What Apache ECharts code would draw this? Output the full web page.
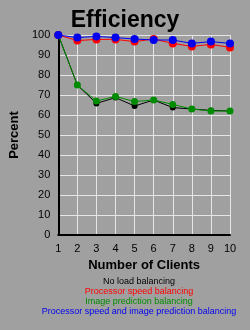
<!DOCTYPE html>
<html><head><meta charset="utf-8">
<script src="https://cdn.jsdelivr.net/npm/echarts@6/dist/echarts.min.js"></script>
<style>html,body{margin:0;padding:0;background:#a0a0a0;}#c{width:250px;height:330px;}</style>
</head><body><div id="c"></div>
<script>
const clients = [1,2,3,4,5,6,7,8,9,10];
const noLoad = [100,75,65.8,68.7,64.5,67.5,63.7,63,62.3,62];
const procSpeed = [100,97.2,97.8,97.8,96.7,98,95.8,94.3,95.3,93.8];
const imagePred = [100,75,67,69.3,66.7,67.5,65.3,63,62,62];
const both = [100,98.7,99.3,98.7,98,97.5,97.5,95.8,96.7,95.8];
const seriesNames = ['No load balancing','Processor speed balancing','Image prediction balancing','Processor speed and image prediction balancing'];
const seriesColors = ['#000000','#ff0000','#008c00','#0000ee'];
const seriesData = [noLoad, procSpeed, imagePred, both];
const markerSizes = [6,8,7,8];

const chart = echarts.init(document.getElementById('c'));
const font = 'Liberation Sans, Arial, sans-serif';
chart.setOption({
  backgroundColor:'#a0a0a0',
  animation:false,
  title:{text:'Efficiency',left:'center',top:4,textStyle:{fontFamily:font,fontWeight:'bold',fontSize:23,color:'#000'}},
  grid:{left:50,right:20,top:35,bottom:95},
  xAxis:{type:'value',min:1,max:10,interval:1,
    name:'Number of Clients',nameLocation:'middle',nameGap:19,
    nameTextStyle:{fontFamily:font,fontWeight:'bold',fontSize:13,color:'#000'},
    axisLine:{lineStyle:{color:'#000',width:2}},axisTick:{show:false},
    axisLabel:{color:'#000',fontFamily:font,fontSize:11,margin:8},
    splitLine:{show:true,lineStyle:{color:'#e6e6e6',width:1}}},
  yAxis:{type:'value',min:0,max:100,interval:10,
    name:'Percent',nameLocation:'middle',nameGap:33,nameRotate:90,
    nameTextStyle:{fontFamily:font,fontWeight:'bold',fontSize:13,color:'#000'},
    axisLine:{show:true,lineStyle:{color:'#000',width:2}},axisTick:{show:false},
    axisLabel:{color:'#000',fontFamily:font,fontSize:11,margin:8},
    splitLine:{show:true,lineStyle:{color:'#e6e6e6',width:1}}},
  series: seriesNames.map((n,i)=>({
    name:n,type:'line',data:clients.map((c,j)=>[c,seriesData[i][j]]),
    symbol:'circle',symbolSize:markerSizes[i],
    lineStyle:{color:seriesColors[i],width:1},itemStyle:{color:seriesColors[i]},z:2+i
  })),
  graphic: seriesNames.map((n,i)=>({
    type:'text',x:139,y:277+i*10,
    style:{text:n,fill:seriesColors[i],font:'9px '+font,textAlign:'center',textVerticalAlign:'top'}
  }))
});
</script></body></html>
